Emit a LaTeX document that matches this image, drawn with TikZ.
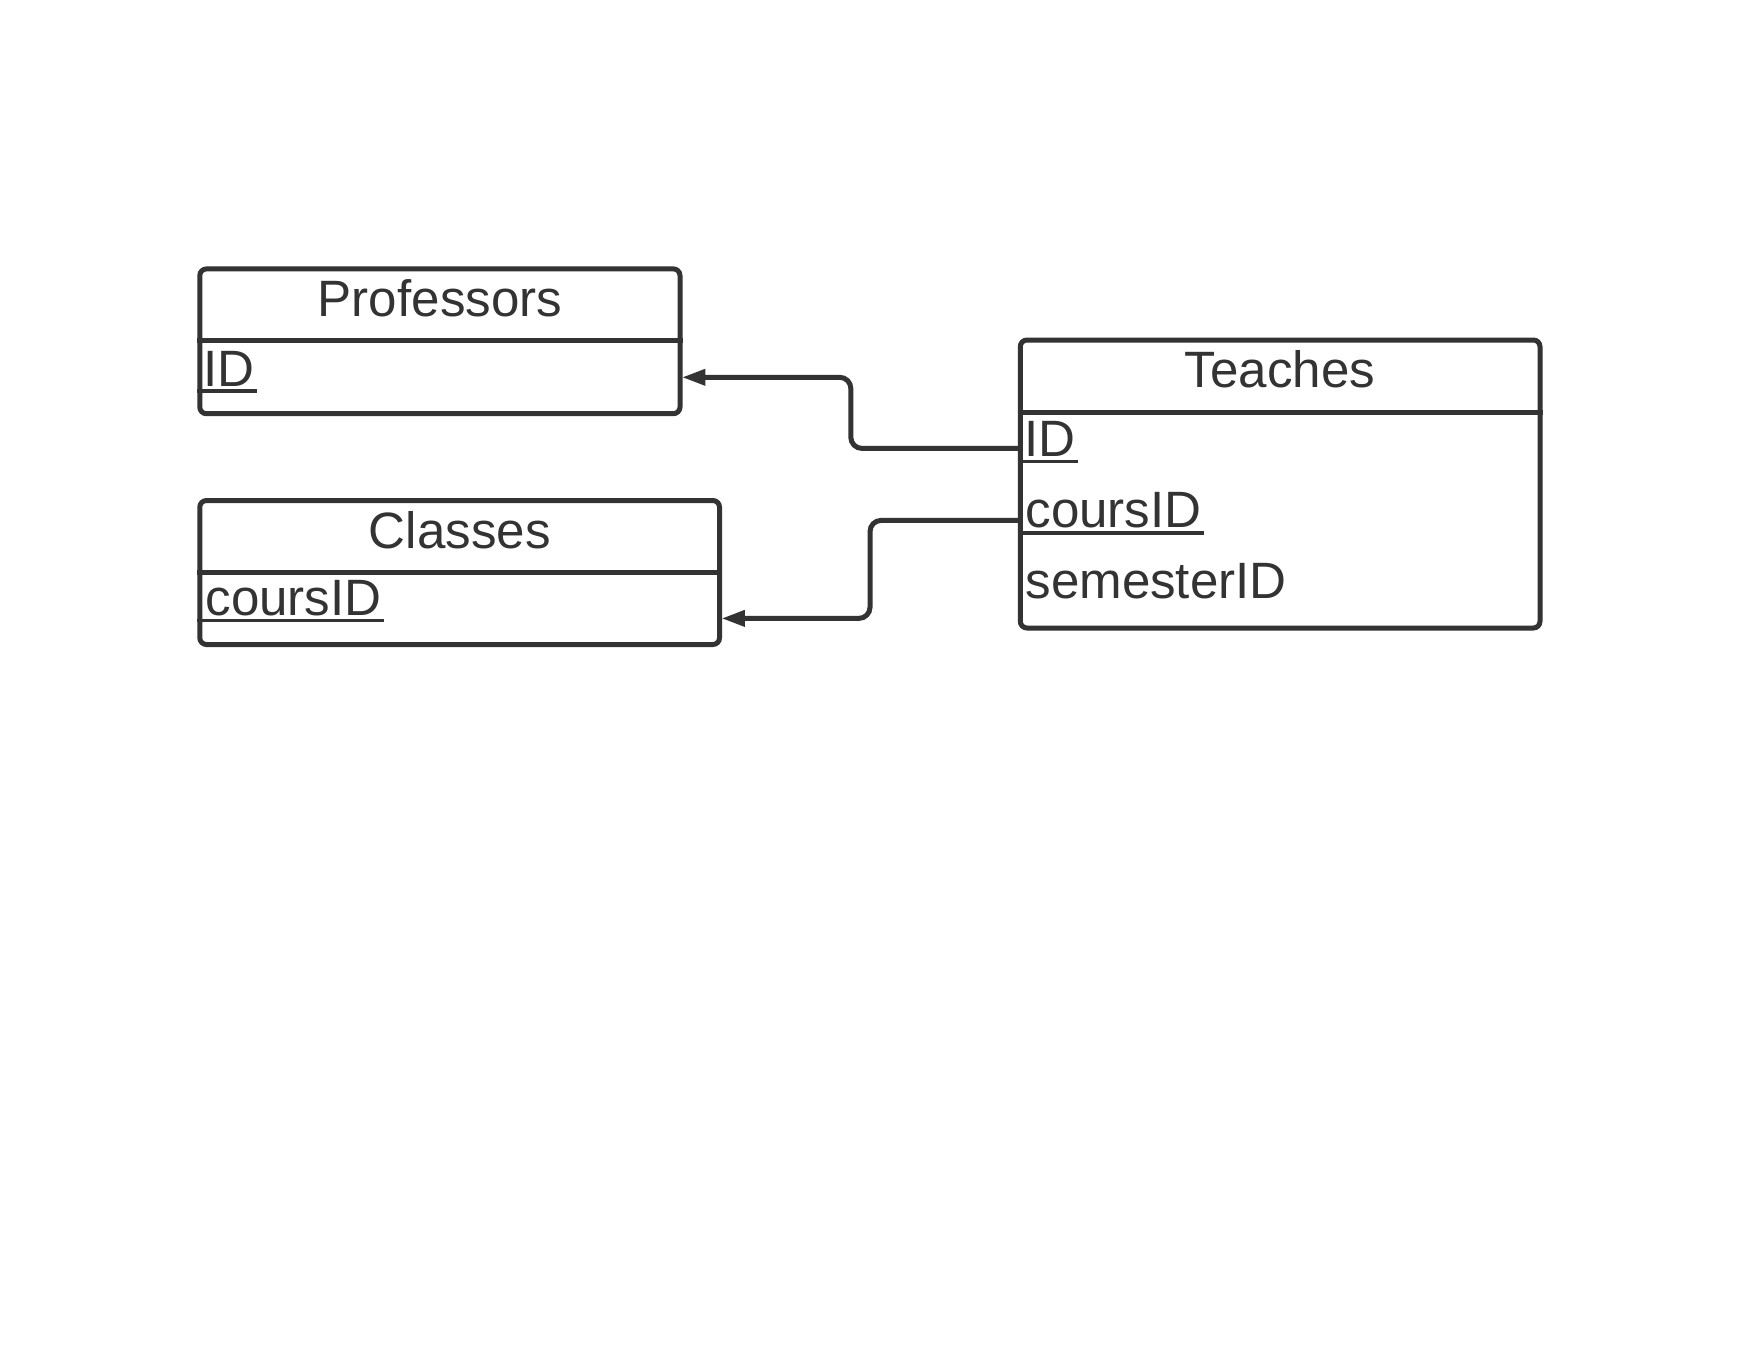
\documentclass[tikz,border=0pt]{standalone}
\usepackage{fontspec}
\setmainfont{Liberation Sans}
\usetikzlibrary{fit,arrows.meta}
\definecolor{ink}{HTML}{333333}
\begin{document}
\begin{tikzpicture}[x=0.45pt,y=-0.45pt,
  entbox/.style={draw=ink, line width=2.25pt, rounded corners=3pt, inner sep=0pt},
  sepline/.style={draw=ink, line width=2.25pt},
  ttl/.style={anchor=base, inner sep=0pt, text=ink, font=\fontsize{23}{27}\selectfont},
  fld/.style={anchor=base west, inner sep=0pt, text=ink, font=\fontsize{23}{27}\selectfont},
  uline/.style={draw=ink, line width=1.5pt},
  conn/.style={draw=ink, line width=2.25pt, rounded corners=5pt, -{Triangle[length=10.5pt,width=7pt]}, shorten >=-0.2pt}
]
\useasboundingbox[fill=white] (0,0) rectangle (1760,1360);

% Professors
\node[entbox, fit={(199.8,268.9) (680,413.7)}] (prof) {};
\draw[sepline] (prof.west |- 0,340.9) -- (prof.east |- 0,340.9);
\node[ttl] (proft) at (440,316.6) {Professors};
\node[fld] (profid) at (203,386) {ID};
\draw[uline] (prof.west |- 0,391) -- ([xshift=1pt]profid.east |- 0,391);

% Classes
\node[entbox, fit={(199.8,500.5) (719.5,644.5)}] (cls) {};
\draw[sepline] (cls.west |- 0,572.5) -- (cls.east |- 0,572.5);
\node[ttl] (clst) at (459.7,548) {Classes};
\node[fld] (clsid) at (205,615) {coursID};
\draw[uline] (cls.west |- 0,620.5) -- ([xshift=1pt]clsid.east |- 0,620.5);

% Teaches
\node[entbox, fit={(1020.3,340) (1540,628)}] (tch) {};
\draw[sepline] (tch.west |- 0,412.9) -- (tch.east |- 0,412.9);
\node[ttl] (tcht) at (1280,387) {Teaches};
\node[fld] (tid) at (1024,456) {ID};
\draw[uline] (tch.west |- 0,461.5) -- ([xshift=1pt]tid.east |- 0,461.5);
\node[fld] (tcid) at (1025,527) {coursID};
\draw[uline] (tch.west |- 0,533) -- ([xshift=1pt]tcid.east |- 0,533);
\node[fld] (tsid) at (1025,598.5) {semesterID};

% Connectors
\draw[conn] (tch.west |- 0,448.4) -- (850.8,448.4) -- (850.8,377.3) -- (prof.east |- 0,377.3);
\draw[conn] (tch.west |- 0,520.4) -- (870,520.4) -- (870,618.4) -- (cls.east |- 0,618.4);
\end{tikzpicture}
\end{document}
